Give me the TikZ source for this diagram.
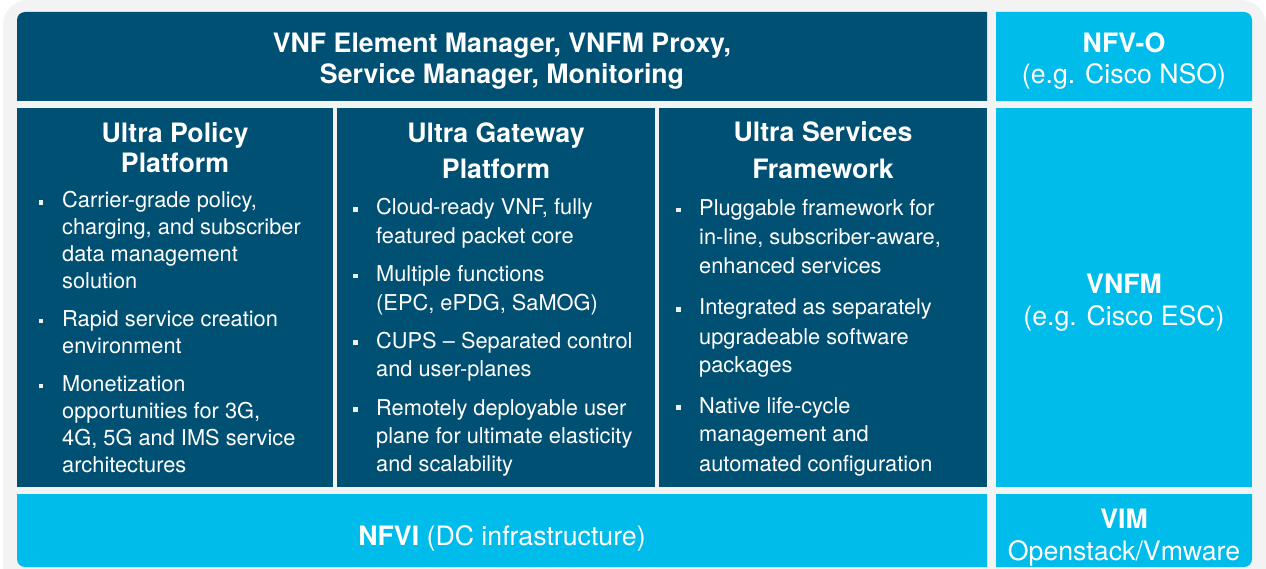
\documentclass[tikz,border=0pt]{standalone}
\usepackage{fontspec}
\setmainfont{TeX Gyre Heros}
\definecolor{dkblue}{HTML}{005073}
\definecolor{cyanb}{HTML}{00BCEB}
\definecolor{bggray}{HTML}{F3F3F3}
\begin{document}
\begin{tikzpicture}[x=1pt,y=-1pt,
 body/.style={anchor=base west, inner sep=0, text=white, font=\fontsize{21.8}{26}\selectfont},
 head/.style={anchor=base, inner sep=0, text=white, font=\fontsize{26.7}{31}\selectfont\bfseries},
 side/.style={anchor=base, inner sep=0, text=white, font=\fontsize{26.7}{31}\selectfont},
 bul/.style={fill=white!92!dkblue}]
\useasboundingbox (0,0) rectangle (1266,569);
\clip (0,0) rectangle (1266,569);
\fill[bggray, rounded corners=25] (3,0) rectangle (1266,600);
% boxes
\fill[dkblue] (17,101) -- (17,20) .. controls (17,15.6) and (20.6,12) .. (25,12) -- (987,12) -- (987,101) -- cycle;
\fill[cyanb] (996,12) -- (1244,12) .. controls (1248.4,12) and (1252,15.6) .. (1252,20) -- (1252,101) -- (996,101) -- cycle;
\fill[dkblue] (17,108) rectangle (333,487);
\fill[dkblue] (337,108) rectangle (655,487);
\fill[dkblue] (659,108) rectangle (987,487);
\fill[cyanb] (996,108) rectangle (1252,487);
\fill[cyanb] (17,494) -- (987,494) -- (987,567) -- (25,567) .. controls (20.6,567) and (17,563.4) .. (17,559) -- cycle;
\fill[cyanb] (996,494) -- (1252,494) -- (1252,559) .. controls (1252,563.4) and (1248.4,567) .. (1244,567) -- (996,567) -- cycle;
% top texts
\node[head] (t1) at (502,53) {VNF Element Manager, VNFM Proxy,};
\node[head] (t2) at (502,84) {Service Manager, Monitoring};
\node[head] (o1) at (1124,53) {NFV-O};
\node[side] (o2) at (1124,84) {(e.g. Cisco NSO)};
\node[head] (m1) at (1124,294) {VNFM};
\node[side] (m2) at (1124,325) {(e.g. Cisco ESC)};
\node[side] (nfvi) at (502,545) {\textbf{NFVI} (DC infrastructure)};
\node[head] (v1) at (1124,528) {VIM};
\node[side] (v2) at (1124,560) {Openstack/Vmware};
% column titles
\node[head] (h1a) at (175,143) {Ultra Policy};
\node[head] (h1b) at (175,173) {Platform};
\node[head] (h2a) at (496,143) {Ultra Gateway};
\node[head] (h2b) at (496,179) {Platform};
\node[head] (h3a) at (823,142) {Ultra Services};
\node[head] (h3b) at (823,179) {Framework};
% column 1
\fill[bul] (39,200.3) rectangle +(4.4,4.4);
\node[body] (a1) at (62,208) {Carrier-grade policy,};
\node[body] (a2) at (62,234.7) {charging, and subscriber};
\node[body] (a3) at (62,261.4) {data management};
\node[body] (a4) at (62,288) {solution};
\fill[bul] (39,318.8) rectangle +(4.4,4.4);
\node[body] (a5) at (62,326.5) {Rapid service creation};
\node[body] (a6) at (62,353.2) {environment};
\fill[bul] (39,383.8) rectangle +(4.4,4.4);
\node[body] (a7) at (62,391.5) {Monetization};
\node[body] (a8) at (62,418.3) {opportunities for 3G,};
\node[body] (a9) at (62,445.1) {4G, 5G and IMS service};
\node[body] (a10) at (62,472) {architectures};
% column 2
\fill[bul] (353.3,207.3) rectangle +(4.4,4.4);
\node[body] (b1) at (376,215) {Cloud-ready VNF, fully};
\node[body] (b2) at (376,243.3) {featured packet core};
\fill[bul] (353.3,273.8) rectangle +(4.4,4.4);
\node[body] (b3) at (376,281.7) {Multiple functions};
\node[body] (b4) at (376,310) {(EPC, ePDG, SaMOG)};
\fill[bul] (353.3,340.4) rectangle +(4.4,4.4);
\node[body] (b5) at (376,348.3) {CUPS -- Separated control};
\node[body] (b6) at (376,376.7) {and user-planes};
\fill[bul] (353.3,407.1) rectangle +(4.4,4.4);
\node[body] (b7) at (376,415) {Remotely deployable user};
\node[body] (b8) at (376,443.5) {plane for ultimate elasticity};
\node[body] (b9) at (376,471.7) {and scalability};
% column 3
\fill[bul] (676.3,207.8) rectangle +(4.4,4.4);
\node[body] (c1) at (699,215.7) {Pluggable framework for};
\node[body] (c2) at (699,245) {in-line, subscriber-aware,};
\node[body] (c3) at (699,273.3) {enhanced services};
\fill[bul] (676.3,307.1) rectangle +(4.4,4.4);
\node[body] (c4) at (699,315) {Integrated as separately};
\node[body] (c5) at (699,344.3) {upgradeable software};
\node[body] (c6) at (699,372.7) {packages};
\fill[bul] (676.3,405.4) rectangle +(4.4,4.4);
\node[body] (c7) at (699,413.3) {Native life-cycle};
\node[body] (c8) at (699,441.7) {management and};
\node[body] (c9) at (699,471) {automated configuration};
\end{tikzpicture}
\end{document}
